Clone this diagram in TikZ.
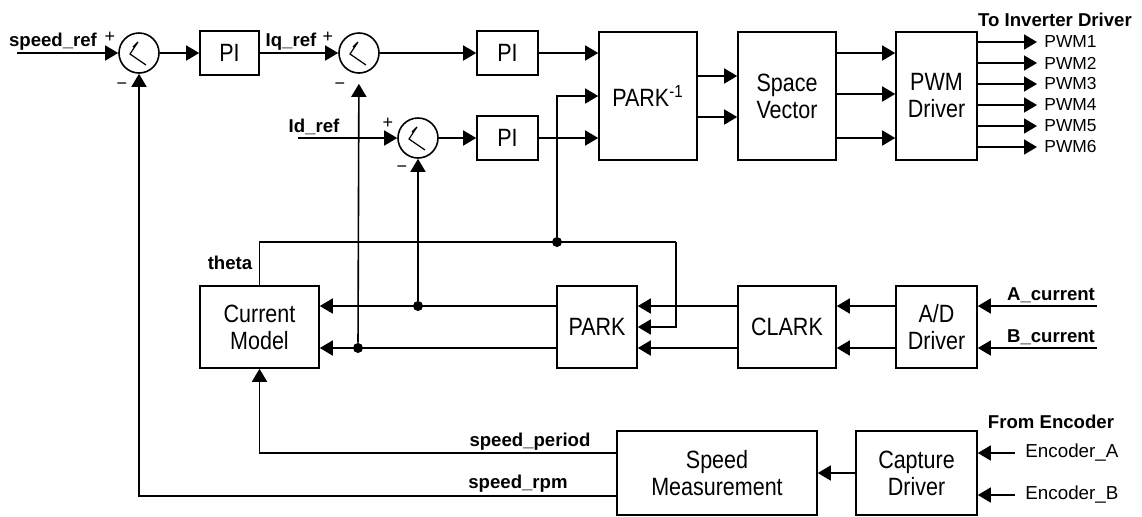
\documentclass[tikz,border=0pt]{standalone}
\usepackage{fontspec}
\setmainfont{Liberation Sans}
\newfontfamily\boxfont[FakeStretch=0.86]{Liberation Sans}
\usetikzlibrary{arrows.meta,calc}

\begin{document}
\begin{tikzpicture}[x=0.5pt,y=-0.5pt,
  blk/.style={rectangle, draw, line width=0.8pt, inner sep=0pt, align=center, font=\boxfont\fontsize{12.5}{13.5}\selectfont},
  sumnode/.style={circle, draw, line width=0.8pt, minimum size=20pt, inner sep=0pt},
  arrow/.style={-{Triangle[length=6.5pt,width=7.5pt]}, line width=0.8pt},
  wire/.style={line width=0.8pt},
  sig/.style={font=\bfseries\fontsize{9.3}{11}\selectfont, inner sep=0pt},
  sgn/.style={font=\fontsize{9}{10}\selectfont, inner sep=0pt},
  outlbl/.style={font=\fontsize{8.7}{10}\selectfont, inner sep=0pt, anchor=west},
  enclbl/.style={font=\fontsize{9.4}{11}\selectfont, inner sep=0pt, anchor=west},
  jdot/.style={circle, fill, inner sep=0pt, minimum size=5pt},
]
\useasboundingbox (0,0) rectangle (1142,516);

% === Speed and current loops ===
\node[sumnode] (sum1) at (139,53) {};
\node[blk, minimum width=29.5pt, minimum height=22pt] (pi1) at (229.5,53) {PI};
\node[sumnode] (sum2) at (359,53) {};
\node[blk, minimum width=30.5pt, minimum height=22pt] (pi2) at (507.5,53) {PI};
\node[sumnode] (sum3) at (418,138) {};
\node[blk, minimum width=30.5pt, minimum height=22pt] (pi3) at (507.5,138) {PI};

\foreach \s in {sum1,sum2,sum3}
  \draw[line width=0.6pt] ($(\s)+(-6,-6)$) -- ($(\s)+(-1,-11)$) -- ($(\s)+(-9,1)$) -- ($(\s)+(7,12)$);

% === Output stage ===
\node[blk, minimum width=49pt, minimum height=64pt] (parkinv) at (648,96) {PARK\textsuperscript{-1}};
\node[blk, minimum width=49pt, minimum height=64pt] (sv) at (787,96) {Space\\Vector};
\node[blk, minimum width=40.5pt, minimum height=64pt] (pwm) at (936.5,96) {PWM\\Driver};

% === Feedback stage ===
\node[blk, minimum width=59.5pt, minimum height=41pt] (cm) at (259.5,327) {Current\\Model};
\node[blk, minimum width=40pt, minimum height=41pt] (park) at (597,327) {PARK};
\node[blk, minimum width=49pt, minimum height=41pt] (clark) at (787,327) {CLARK};
\node[blk, minimum width=40.5pt, minimum height=41pt] (ad) at (936.5,327) {A/D\\Driver};
\node[blk, minimum width=100pt, minimum height=42pt] (sm) at (717,473) {Speed\\Measurement};
\node[blk, minimum width=60.5pt, minimum height=42pt] (cap) at (916.5,473) {Capture\\Driver};

% === References ===
\coordinate (spd) at (17,53);
\coordinate (idr) at (298,138);
\draw[arrow] (spd) -- (sum1);
\draw[arrow] (sum1) -- (pi1);
\draw[arrow] (pi1) -- (sum2);
\draw[arrow] (sum2) -- (pi2);
\draw[arrow] (pi2) -- (pi2 -| parkinv.west);
\draw[arrow] (idr) -- (sum3);
\draw[arrow] (sum3) -- (pi3);
\draw[arrow] (pi3) -- (pi3 -| parkinv.west);

\node[sig] at (53,42) {speed\_ref};
\node[sig] at (291,42) {Iq\_ref};
\node[sig] at (314,127) {Id\_ref};
\node[sgn] at (110,37) {+};
\node[sgn] at (122,86) {−};
\node[sgn] at (328,37) {+};
\node[sgn] at (340,86) {−};
\node[sgn] at (388,123) {+};
\node[sgn] at (402,169) {−};

% === PARK^-1 -> Space Vector -> PWM ===
\foreach \yy in {76,117}
  \draw[arrow] (parkinv.east |- 0,\yy) -- (sv.west |- 0,\yy);
\foreach \yy in {53,94,138}
  \draw[arrow] (sv.east |- 0,\yy) -- (pwm.west |- 0,\yy);
\foreach \i in {1,...,6}{
  \pgfmathsetmacro\yy{21+21*\i}
  \node[outlbl] (pwm\i) at (1044,\yy) {PWM\i};
  \draw[arrow] (pwm.east |- pwm\i) -- ([xshift=-3.5pt]pwm\i.west);
}
\node[sig] at (1055,20) {To Inverter Driver};

% === Current measurement ===
\coordinate (ia) at (1097,306);
\coordinate (ib) at (1097,348);
\draw[arrow] (ia) -- (ia -| ad.east);
\draw[arrow] (ib) -- (ib -| ad.east);
\node[sig] at (1051,295) {A\_current};
\node[sig] at (1051,337) {B\_current};
\foreach \yy in {306,348}{
  \draw[arrow] (ad.west |- 0,\yy) -- (clark.east |- 0,\yy);
  \draw[arrow] (clark.west |- 0,\yy) -- (park.east |- 0,\yy);
  \draw[arrow] (park.west |- 0,\yy) -- (cm.east |- 0,\yy);
}
\node[jdot] (jd) at (418,306) {};
\node[jdot] (jq) at (358,348) {};
\draw[arrow] (jd) -- (sum3);
\draw[arrow, shorten >=5pt] (jq) -- (sum2);

% === Angle theta ===
\coordinate (thr) at (676,242);
\node[jdot] (jt) at (557,242) {};
\draw[wire] (cm.north) |- (thr);
\draw[arrow] (thr) |- (park.east);
\draw[arrow] (jt) |- (parkinv.west);
\node[sig] at (230,263) {theta};

% === Speed measurement ===
\draw[arrow] (sm.west |- 0,453) -| (cm.south);
\draw[arrow] (sm.west |- 0,496) -| (sum1);
\node[sig] at (530,442) {speed\_period};
\node[sig] at (518,484) {speed\_rpm};
\draw[arrow] (cap) -- (sm);
\coordinate (ea) at (1015,453);
\coordinate (eb) at (1015,495);
\draw[arrow] (ea) -- (ea -| cap.east);
\draw[arrow] (eb) -- (eb -| cap.east);
\node[enclbl] at (1025,453) {Encoder\_A};
\node[enclbl] at (1025,495) {Encoder\_B};
\node[sig] at (1051,422) {From Encoder};

\end{tikzpicture}
\end{document}
